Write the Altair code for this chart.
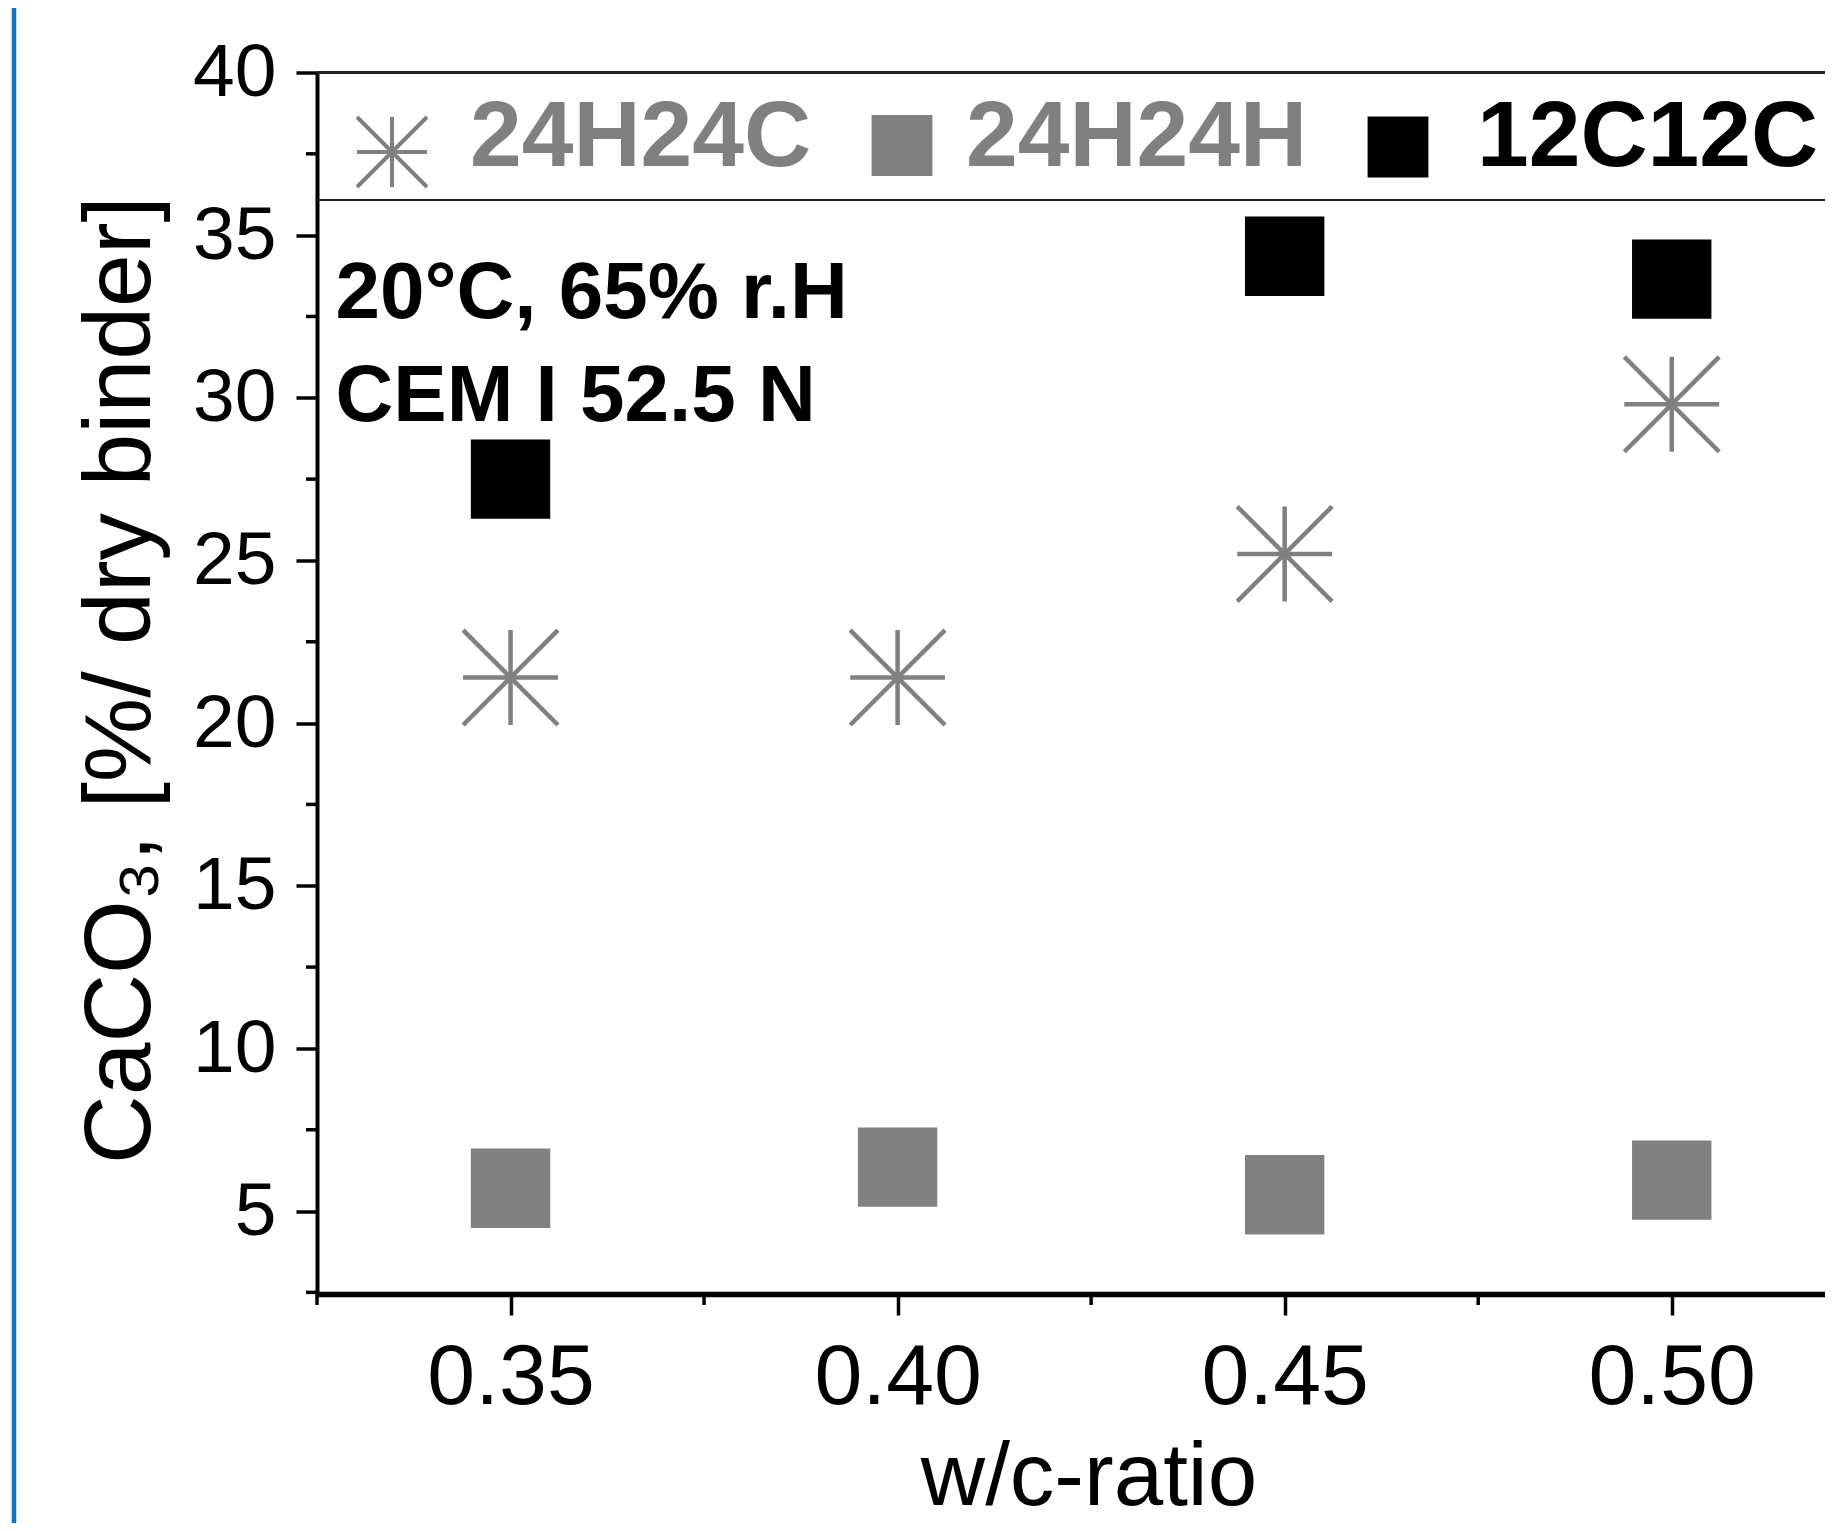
import altair as alt
import pandas as pd

# ---- data ----
w_c = [0.35, 0.40, 0.45, 0.50]
caco3_24H24C = [21.4, 21.4, 25.2, 29.8]
caco3_24H24H = [5.7, 6.35, 5.5, 5.95]
caco3_12C12C = [27.5, None, 34.35, 33.65]
series_names = ["24H24C", "24H24H", "12C12C"]

x_ticks = [0.35, 0.40, 0.45, 0.50]
x_minor = [0.325, 0.375, 0.425, 0.475]
y_ticks = [5, 10, 15, 20, 25, 30, 35, 40]
y_minor = [2.5, 7.5, 12.5, 17.5, 22.5, 27.5, 32.5, 37.5]
note_lines = ["20°C, 65% r.H", "CEM I 52.5 N"]
x_title = "w/c-ratio"
y_title = "CaCO₃, [%/ dry binder]"

rows = []
for name, vals in zip(series_names, [caco3_24H24C, caco3_24H24H, caco3_12C12C]):
    for x, v in zip(w_c, vals):
        if v is not None:
            rows.append({"series": name, "wc": x, "caco3": v})
df = pd.DataFrame(rows)
df_xminor = pd.DataFrame({"wc": x_minor})
df_yminor = pd.DataFrame({"caco3": y_minor})
one = pd.DataFrame({"k": [0]})

# ---- style ----
W, H = 1508, 1221.5
FONT = "Liberation Sans"
GRAY = "#808080"
AST = "M0,-1L0,1M-1,0L1,0M-1,-1L1,1M-1,1L1,-1"

xscale = alt.Scale(domain=[0.325, 0.5198], nice=False, zero=False)
yscale = alt.Scale(domain=[2.45, 40], nice=False, zero=False)

xaxis = alt.Axis(
    values=x_ticks, format=".2f", title=x_title, grid=False,
    labelFont=FONT, labelFontSize=86, labelColor="black",
    labelBaseline="alphabetic", labelPadding=88, labelFlush=False, labelOverlap=False,
    tickSize=21, tickWidth=3.5, tickColor="black",
    domainWidth=5.5, domainColor="black",
    titleFont=FONT, titleFontSize=89, titleFontWeight="normal", titleColor="black",
    titleX=771.5, titleY=210, titleBaseline="alphabetic", titleAlign="center",
)
yaxis = alt.Axis(
    values=y_ticks, format="d", title=y_title, grid=False,
    labelFont=FONT, labelFontSize=75, labelColor="black",
    labelPadding=20, labelFlush=False, labelOverlap=False,
    tickSize=21, tickWidth=3.5, tickColor="black",
    domainWidth=4, domainColor="black",
    titleFont=FONT, titleFontSize=95, titleFontWeight="normal", titleColor="black",
    titleAngle=270, titleX=-168, titleY=607, titleBaseline="alphabetic", titleAlign="center",
)

base = alt.Chart(df)

gray_sq = base.transform_filter(alt.datum.series == series_names[1]).mark_point(
    shape="square", filled=True, size=6300, color=GRAY, opacity=1
).encode(x=alt.X("wc:Q", scale=xscale, axis=xaxis), y=alt.Y("caco3:Q", scale=yscale, axis=yaxis))

black_sq = base.transform_filter(alt.datum.series == series_names[2]).mark_point(
    shape="square", filled=True, size=6300, color="black", opacity=1
).encode(x=alt.X("wc:Q", scale=xscale), y=alt.Y("caco3:Q", scale=yscale))

stars = base.transform_filter(alt.datum.series == series_names[0]).mark_point(
    shape=AST, filled=False, size=9000, color=GRAY, strokeWidth=4.5, opacity=1
).encode(x=alt.X("wc:Q", scale=xscale), y=alt.Y("caco3:Q", scale=yscale))

# minor ticks
xminor = alt.Chart(df_xminor).mark_rule(color="black", strokeWidth=3.5).encode(
    x=alt.X("wc:Q", scale=xscale), y=alt.value(H), y2=alt.value(H + 11)
)
yminor = alt.Chart(df_yminor).mark_rule(color="black", strokeWidth=3.5).encode(
    y=alt.Y("caco3:Q", scale=yscale), x=alt.value(0), x2=alt.value(-11)
)

# frame lines
top_line = alt.Chart(one).mark_rule(color="#222222", strokeWidth=3).encode(
    x=alt.value(0), x2=alt.value(W), y=alt.value(0)
)
sep_line = alt.Chart(one).mark_rule(color="#222222", strokeWidth=2.2).encode(
    x=alt.value(0), x2=alt.value(W), y=alt.value(127.5)
)
blue_line = alt.Chart(one).mark_rule(color="#1472C4", strokeWidth=4.5).encode(
    x=alt.value(-303), y=alt.value(-64.5), y2=alt.value(1460)
)

# legend
leg_star = alt.Chart(one).mark_point(shape=AST, filled=False, size=4900, color=GRAY, strokeWidth=4, opacity=1).encode(
    x=alt.value(75), y=alt.value(79.5)
)
leg_gsq = alt.Chart(one).mark_point(shape="square", filled=True, size=3700, color=GRAY, opacity=1).encode(
    x=alt.value(585), y=alt.value(73)
)
leg_bsq = alt.Chart(one).mark_point(shape="square", filled=True, size=3700, color="black", opacity=1).encode(
    x=alt.value(1081), y=alt.value(74.5)
)
leg_texts = []
for name, tx, col in zip(series_names, [153, 649, 1160], [GRAY, GRAY, "black"]):
    leg_texts.append(
        alt.Chart(one).mark_text(
            text=name, font=FONT, fontSize=93, fontWeight="bold", color=col,
            align="left", baseline="alphabetic"
        ).encode(x=alt.value(tx), y=alt.value(93.5))
    )

notes = []
for line, ty in zip(note_lines, [245.5, 348.5]):
    notes.append(
        alt.Chart(one).mark_text(
            text=line, font=FONT, fontSize=80, fontWeight="bold", color="black",
            align="left", baseline="alphabetic"
        ).encode(x=alt.value(18.5), y=alt.value(ty))
    )

chart = alt.layer(
    gray_sq, black_sq, stars, xminor, yminor, top_line, sep_line, blue_line,
    leg_star, leg_gsq, leg_bsq, *leg_texts, *notes
).properties(
    width=W, height=H,
    autosize="none",
    padding={"left": 309, "top": 64.5, "right": 0, "bottom": 229},
    background="white",
).configure_view(stroke=None)

chart.save("out.html", embed_options={"renderer": "svg", "actions": False})
